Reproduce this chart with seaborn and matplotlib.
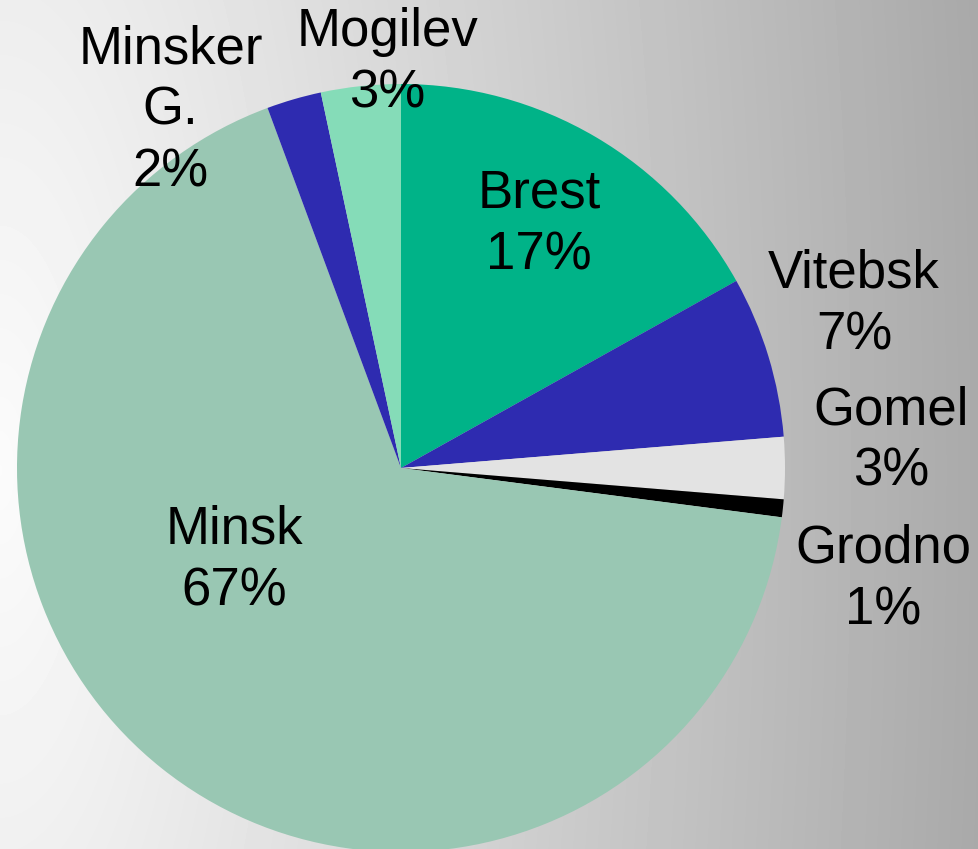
"""
Pie chart of shares by region (Belarus)
"""
import numpy as np
import matplotlib
matplotlib.use("Agg")
import matplotlib.pyplot as plt
import seaborn as sns

# Data
regions = ["Brest", "Vitebsk", "Gomel", "Grodno", "Minsk", "Minsker\nG.", "Mogilev"]
shares = [16.9, 6.8, 2.6, 0.75, 67.3, 2.3, 3.35]
pct_labels = ["17%", "7%", "3%", "1%", "67%", "2%", "3%"]

# Styling
colors = ["#00B388", "#2E2BB0", "#E3E3E3", "#000000", "#99C7B3", "#2E2BB0", "#85DCB8"]
# label centres in pie units (radius = 1)
label_pos = [(0.36, 0.635), (1.18, 0.425), (1.277, 0.07), (1.256, -0.29),
             (-0.435, -0.24), (-0.6, 0.93), (-0.036, 1.055)]

sns.set_theme(style="white")
plt.rcParams["font.family"] = ["Liberation Sans", "DejaVu Sans"]

W, H = 979, 849
fig = plt.figure(figsize=(W / 100, H / 100), dpi=100)

# background gradient
bg = fig.add_axes([0, 0, 1, 1])
xx, yy = np.meshgrid(np.arange(W), np.arange(H))
d = np.sqrt((xx / W) ** 2 + ((yy - 470) / 2800.0) ** 2)
val = np.clip(0.985 - 0.32 * d, 0, 1)
bg.imshow(val, cmap="gray", vmin=0, vmax=1, aspect="auto", interpolation="bilinear")
bg.set_axis_off()

# pie
ax = fig.add_axes([0, 0, 1, 1])
ax.patch.set_alpha(0)
r_px = 384.0
cx, cy = 401.0, 468.0
ax.pie(shares, colors=colors, startangle=90, counterclock=False,
       radius=1, center=(0, 0), wedgeprops=dict(linewidth=0))
ax.set_xlim(-cx / r_px, (W - cx) / r_px)
ax.set_ylim(-(H - cy) / r_px, cy / r_px)
ax.set_aspect("auto")
ax.set_axis_off()

for name, pct, (lx, ly) in zip(regions, pct_labels, label_pos):
    ax.text(lx, ly, f"{name}\n{pct}", ha="center", va="center",
            fontsize=38, color="black", linespacing=1.3)

fig.savefig("out.png", dpi=100)
